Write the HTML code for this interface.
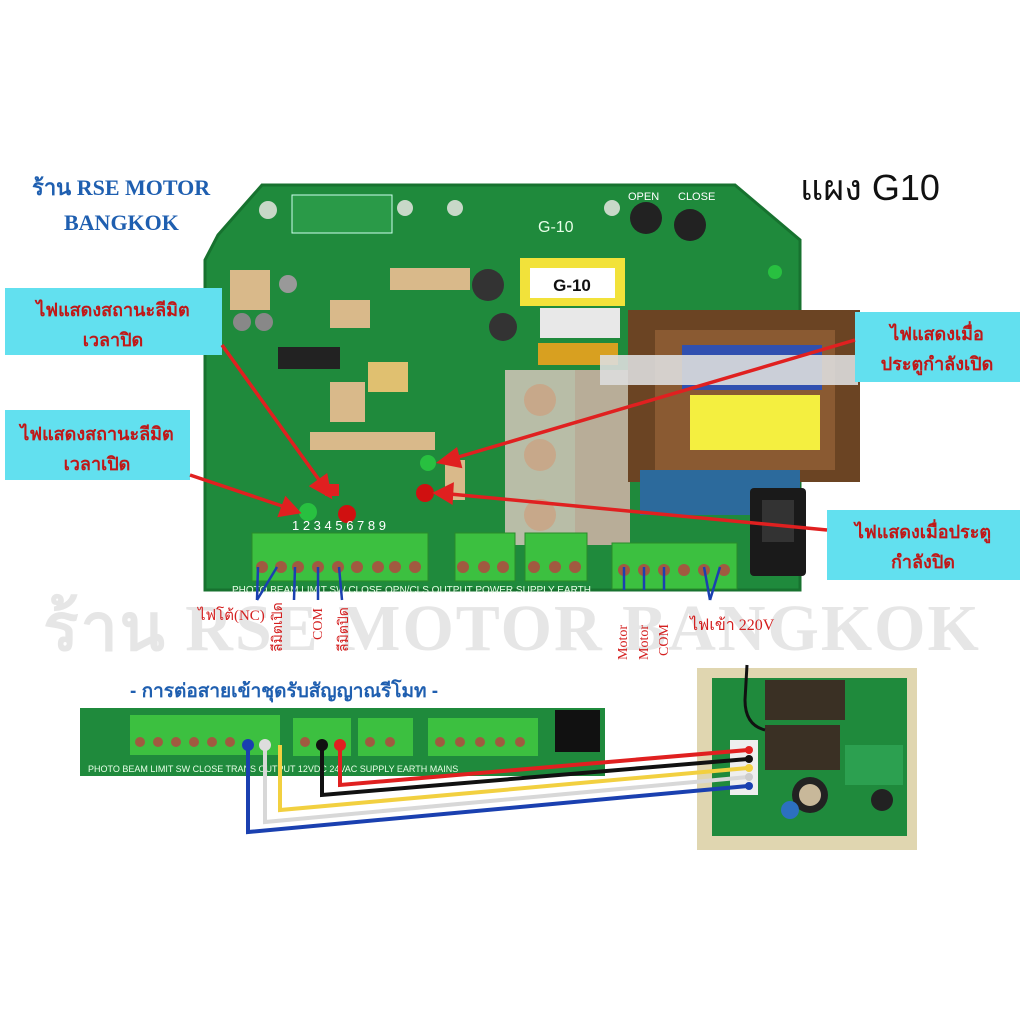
<!DOCTYPE html>
<html><head><meta charset="utf-8"><style>
html,body{margin:0;padding:0;background:#fff;}
svg{display:block}
text{font-family:"Liberation Sans","Noto Sans CJK SC",sans-serif}
text.serif{font-family:"Liberation Serif","Noto Serif CJK SC",serif}
</style></head><body>
<svg width="1024" height="1024" viewBox="0 0 1024 1024" xmlns="http://www.w3.org/2000/svg">
<rect width="1024" height="1024" fill="#fff"/>
<!-- watermark -->
<text class="serif" x="512" y="650" text-anchor="middle" font-size="66" font-weight="bold" fill="#e6e6e6" letter-spacing="2">ร้าน RSE MOTOR BANGKOK</text>

<!-- main PCB -->
<polygon points="262,185 735,185 800,240 800,590 205,590 205,260 218,235" fill="#1f8a3c"/>
<polygon points="262,185 735,185 800,240 800,590 205,590 205,260 218,235" fill="none" stroke="#17722f" stroke-width="3"/>
<rect x="292" y="195" width="100" height="38" fill="#2a9a48" stroke="#cfe" stroke-width="1"/>
<circle cx="268" cy="210" r="9" fill="#c8d8c8"/><circle cx="405" cy="208" r="8" fill="#c8d8c8"/><circle cx="455" cy="208" r="8" fill="#c8d8c8"/><circle cx="612" cy="208" r="8" fill="#c8d8c8"/>
<text x="538" y="232" fill="#e8ffe8" font-size="16">G-10</text>
<circle cx="646" cy="218" r="16" fill="#222"/><circle cx="690" cy="225" r="16" fill="#222"/>
<text x="628" y="200" fill="#fff" font-size="11">OPEN</text><text x="678" y="200" fill="#fff" font-size="11">CLOSE</text>
<rect x="520" y="258" width="105" height="48" fill="#f2e23a"/>
<rect x="530" y="268" width="85" height="30" fill="#fff"/>
<text x="572" y="291" text-anchor="middle" font-size="17" font-weight="bold" fill="#111">G-10</text>
<rect x="540" y="308" width="80" height="30" fill="#e8e8e8"/>
<rect x="538" y="343" width="80" height="22" fill="#d8a020"/>
<circle cx="488" cy="285" r="16" fill="#333"/><circle cx="503" cy="327" r="14" fill="#333"/>
<circle cx="288" cy="284" r="9" fill="#999"/><circle cx="242" cy="322" r="9" fill="#888"/><circle cx="264" cy="322" r="9" fill="#888"/>
<rect x="278" y="347" width="62" height="22" fill="#222"/>
<g fill="#d9b98a">
<rect x="310" y="432" width="125" height="18"/><rect x="330" y="382" width="35" height="40"/><rect x="330" y="300" width="40" height="28"/><rect x="390" y="268" width="80" height="22"/><rect x="230" y="270" width="40" height="40"/><rect x="445" y="460" width="20" height="40"/>
</g>
<rect x="368" y="362" width="40" height="30" fill="#e0c070"/>
<rect x="505" y="370" width="110" height="175" fill="#c9c2b3" opacity="0.9"/>
<rect x="575" y="370" width="55" height="175" fill="#b8ad98"/>
<circle cx="540" cy="400" r="16" fill="#c7a88a"/><circle cx="540" cy="455" r="16" fill="#c7a88a"/><circle cx="540" cy="515" r="16" fill="#c7a88a"/>
<rect x="628" y="310" width="232" height="172" fill="#6b4423"/>
<rect x="655" y="330" width="180" height="140" fill="#8a5a32"/>
<rect x="682" y="345" width="140" height="45" fill="#3050b0"/>
<rect x="690" y="395" width="130" height="55" fill="#f4ef40"/>
<rect x="600" y="355" width="258" height="30" fill="#ddd" opacity="0.9"/>
<rect x="640" y="470" width="160" height="45" fill="#2c6a9c"/>
<rect x="750" y="488" width="56" height="88" rx="4" fill="#1a1a1a"/>
<rect x="762" y="500" width="32" height="42" fill="#333"/>
<circle cx="308" cy="512" r="9" fill="#28c040"/><circle cx="347" cy="514" r="9" fill="#d01010"/><circle cx="428" cy="463" r="8" fill="#28c040"/><circle cx="425" cy="493" r="9" fill="#d01010"/><circle cx="775" cy="272" r="7" fill="#28c040"/>
<rect x="325" y="484" width="14" height="12" fill="#e02020"/>
<text x="292" y="530" fill="#fff" font-size="13">1  2  3  4  5  6  7  8  9</text>
<g fill="#3cc040" stroke="#2a8a2a">
<rect x="252" y="533" width="176" height="48"/>
<rect x="455" y="533" width="60" height="48"/>
<rect x="525" y="533" width="62" height="48"/>
<rect x="612" y="543" width="125" height="46"/>
</g>
<g fill="#a05a40">
<circle cx="262" cy="567" r="6"/><circle cx="281" cy="567" r="6"/><circle cx="298" cy="567" r="6"/><circle cx="318" cy="567" r="6"/><circle cx="338" cy="567" r="6"/><circle cx="357" cy="567" r="6"/><circle cx="378" cy="567" r="6"/><circle cx="395" cy="567" r="6"/><circle cx="415" cy="567" r="6"/>
<circle cx="463" cy="567" r="6"/><circle cx="484" cy="567" r="6"/><circle cx="503" cy="567" r="6"/><circle cx="534" cy="567" r="6"/><circle cx="555" cy="567" r="6"/><circle cx="575" cy="567" r="6"/>
<circle cx="624" cy="570" r="6"/><circle cx="644" cy="570" r="6"/><circle cx="664" cy="570" r="6"/><circle cx="684" cy="570" r="6"/><circle cx="704" cy="570" r="6"/><circle cx="724" cy="570" r="6"/>
</g>
<text x="232" y="593" fill="#e8ffe8" font-size="10">PHOTO BEAM  LIMIT SW    CLOSE  OPN/CLS  OUTPUT  POWER SUPPLY  EARTH</text>
<g stroke="#1a40b0" stroke-width="2.5" fill="#1a40b0">
<line x1="258" y1="567" x2="257" y2="600"/><line x1="277" y1="567" x2="257" y2="600"/><line x1="295" y1="567" x2="294" y2="600"/><line x1="318" y1="567" x2="318" y2="600"/><line x1="339" y1="567" x2="342" y2="600"/>
<line x1="624" y1="567" x2="624" y2="590"/><line x1="644" y1="567" x2="644" y2="590"/><line x1="664" y1="567" x2="664" y2="590"/><line x1="704" y1="567" x2="710" y2="600"/><line x1="720" y1="567" x2="710" y2="600"/>
</g>
<g fill="#d42020" font-size="14">
<text class="serif" x="198" y="620" font-size="15">ไฟโต้(NC)</text>
<text class="serif" transform="translate(282,652) rotate(-90)">ลีมิตเปิด</text>
<text class="serif" transform="translate(322,640) rotate(-90)">COM</text>
<text class="serif" transform="translate(348,652) rotate(-90)">ลีมิตปิด</text>
<text class="serif" transform="translate(627,660) rotate(-90)">Motor</text>
<text class="serif" transform="translate(648,660) rotate(-90)">Motor</text>
<text class="serif" transform="translate(668,656) rotate(-90)">COM</text>
<text class="serif" x="690" y="630" font-size="16">ไฟเข้า 220V</text>
</g>

<text class="serif" x="32" y="195" fill="#1f5fb0" font-size="22" font-weight="bold">ร้าน RSE MOTOR</text>
<text class="serif" x="64" y="230" fill="#1f5fb0" font-size="22" font-weight="bold">BANGKOK</text>
<text x="800" y="200" fill="#111" font-size="36">แผง G10</text>

<rect x="5" y="288" width="217" height="67" fill="#62e0ef"/>
<text x="113" y="316" text-anchor="middle" fill="#c01818" font-size="18" font-weight="bold">ไฟแสดงสถานะลีมิต</text>
<text x="113" y="346" text-anchor="middle" fill="#c01818" font-size="18" font-weight="bold">เวลาปิด</text>
<rect x="5" y="410" width="185" height="70" fill="#62e0ef"/>
<text x="97" y="440" text-anchor="middle" fill="#c01818" font-size="18" font-weight="bold">ไฟแสดงสถานะลีมิต</text>
<text x="97" y="470" text-anchor="middle" fill="#c01818" font-size="18" font-weight="bold">เวลาเปิด</text>
<rect x="855" y="312" width="165" height="70" fill="#62e0ef"/>
<text x="937" y="340" text-anchor="middle" fill="#c01818" font-size="18" font-weight="bold">ไฟแสดงเมื่อ</text>
<text x="937" y="370" text-anchor="middle" fill="#c01818" font-size="18" font-weight="bold">ประตูกำลังเปิด</text>
<rect x="827" y="510" width="193" height="70" fill="#62e0ef"/>
<text x="923" y="538" text-anchor="middle" fill="#c01818" font-size="18" font-weight="bold">ไฟแสดงเมื่อประตู</text>
<text x="923" y="568" text-anchor="middle" fill="#c01818" font-size="18" font-weight="bold">กำลังปิด</text>
<g stroke="#e02020" stroke-width="3.5" fill="#e02020">
<line x1="222" y1="345" x2="322" y2="484"/><polygon points="330,496 312,486 326,476"/>
<line x1="190" y1="475" x2="285" y2="507"/><polygon points="298,512 280,515 286,499"/>
<line x1="855" y1="340" x2="455" y2="458"/><polygon points="440,462 456,450 460,466"/>
<line x1="827" y1="530" x2="450" y2="494"/><polygon points="436,493 452,485 451,502"/>
</g>

<text x="130" y="697" fill="#1f5fb0" font-size="19" font-weight="bold">- การต่อสายเข้าชุดรับสัญญาณรีโมท -</text>
<rect x="80" y="708" width="525" height="68" fill="#1f8a3c"/>
<g fill="#3cc040"><rect x="130" y="715" width="150" height="40"/><rect x="293" y="718" width="58" height="38"/><rect x="358" y="718" width="55" height="38"/><rect x="428" y="718" width="110" height="38"/></g>
<rect x="555" y="710" width="45" height="42" fill="#111"/>
<g fill="#a05a40">
<circle cx="140" cy="742" r="5"/><circle cx="158" cy="742" r="5"/><circle cx="176" cy="742" r="5"/><circle cx="194" cy="742" r="5"/><circle cx="212" cy="742" r="5"/><circle cx="230" cy="742" r="5"/><circle cx="305" cy="742" r="5"/><circle cx="370" cy="742" r="5"/><circle cx="390" cy="742" r="5"/><circle cx="440" cy="742" r="5"/><circle cx="460" cy="742" r="5"/><circle cx="480" cy="742" r="5"/><circle cx="500" cy="742" r="5"/><circle cx="520" cy="742" r="5"/>
</g>
<text x="88" y="772" fill="#e8ffe8" font-size="9">PHOTO BEAM LIMIT SW   CLOSE       TRANS OUTPUT  12VDC  24VAC SUPPLY  EARTH    MAINS</text>
<rect x="697" y="668" width="220" height="182" fill="#e0d6b0"/>
<rect x="712" y="678" width="195" height="158" fill="#1f8a3c"/>
<rect x="765" y="680" width="80" height="40" fill="#3a3024"/><rect x="765" y="725" width="75" height="45" fill="#3a3024"/>
<rect x="845" y="745" width="58" height="40" fill="#2ca050"/>
<circle cx="810" cy="795" r="18" fill="#222"/><circle cx="810" cy="795" r="11" fill="#c8b89a"/><circle cx="882" cy="800" r="11" fill="#222"/>
<circle cx="790" cy="810" r="9" fill="#2c70c0"/>
<rect x="730" y="740" width="28" height="55" fill="#eee"/>
<path d="M747 665 L745 700 Q745 725 765 730" stroke="#111" stroke-width="3" fill="none"/>
<g fill="none" stroke-width="4">
<path d="M248 745 L248 832 L748 786" stroke="#1a40b0"/>
<path d="M265 745 L265 822 L748 777" stroke="#d8d8d8"/>
<path d="M280 745 L280 810 L748 768" stroke="#f2d040"/>
<path d="M322 745 L322 795 L748 759" stroke="#111"/>
<path d="M340 745 L340 785 L748 750" stroke="#e02020"/>
</g>
<g><circle cx="248" cy="745" r="6" fill="#1a40b0"/><circle cx="265" cy="745" r="6" fill="#ddd"/><circle cx="322" cy="745" r="6" fill="#111"/><circle cx="340" cy="745" r="6" fill="#e02020"/>
<circle cx="749" cy="750" r="4" fill="#e02020"/><circle cx="749" cy="759" r="4" fill="#111"/><circle cx="749" cy="768" r="4" fill="#f2d040"/><circle cx="749" cy="777" r="4" fill="#ccc"/><circle cx="749" cy="786" r="4" fill="#1a40b0"/></g>
</svg>
</body></html>
